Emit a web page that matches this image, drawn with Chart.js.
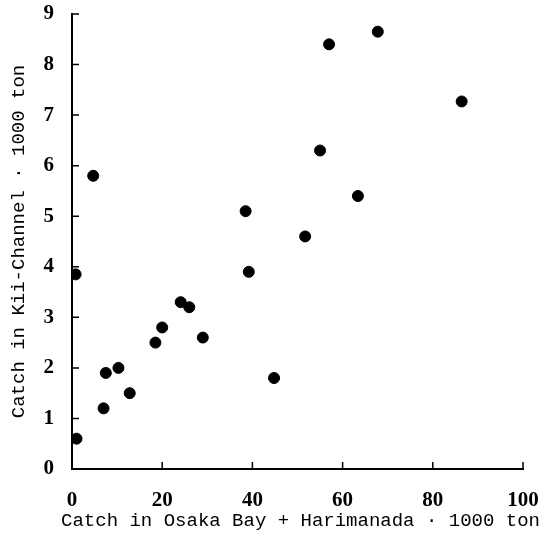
<!DOCTYPE html>
<html>
<head>
<meta charset="utf-8">
<script src="https://cdn.jsdelivr.net/npm/chart.js@4"></script>
<style>
  html, body { margin: 0; padding: 0; background: #fff; }
</style>
</head>
<body>
<canvas id="myCanvas" width="553" height="536"></canvas>
<script>
// catch in Osaka Bay + Harimanada (1000 ton)
var osakaCatch = [1.0, 0.8, 4.7, 7.0, 7.5, 10.3, 12.8, 18.5, 20.0, 24.1, 26.0, 29.0,
  38.5, 39.2, 44.8, 51.7, 55.0, 57.0, 63.4, 67.8, 86.4];
// catch in Kii-Channel (1000 ton)
var kiiCatch = [0.6, 3.85, 5.8, 1.2, 1.9, 2.0, 1.5, 2.5, 2.8, 3.3, 3.2, 2.6,
  5.1, 3.9, 1.8, 4.6, 6.3, 8.4, 5.4, 8.65, 7.27];

var xTitle = 'Catch in Osaka Bay + Harimanada \u00b7 1000 ton';
var yTitle = 'Catch in Kii-Channel \u00b7 1000 ton';

var points = osakaCatch.map(function(x, i) {
  return { x: x, y: kiiCatch[i] };
});

var tickFont = { family: 'Liberation Serif', size: 21, weight: 'bold' };
var titleFont = { family: 'Liberation Mono', size: 19 };

// ticks point into the plot, and the x title is drawn wider than the axis
var axisExtras = {
  id: 'axisExtras',
  afterDraw: function(chart) {
    var c = chart.ctx, xs = chart.scales.x, ys = chart.scales.y, a = chart.chartArea;
    c.save();
    c.strokeStyle = '#000';
    c.lineWidth = 1.5;
    c.beginPath();
    xs.ticks.forEach(function(t) {
      var px = xs.getPixelForValue(t.value);
      c.moveTo(px, a.bottom);
      c.lineTo(px, a.bottom - 7);
    });
    ys.ticks.forEach(function(t) {
      var py = ys.getPixelForValue(t.value);
      c.moveTo(a.left, py);
      c.lineTo(a.left + 7, py);
    });
    c.stroke();
    c.fillStyle = '#000';
    c.font = titleFont.size + 'px "' + titleFont.family + '"';
    c.textAlign = 'center';
    c.textBaseline = 'middle';
    c.fillText(xTitle, (a.left + a.right) / 2 + 3, xs.bottom - 15);
    c.restore();
  }
};

function noPad(scale) {
  scale.paddingTop = 0;
  scale.paddingBottom = 0;
  scale.paddingLeft = 0;
  scale.paddingRight = 0;
}

var ctx = document.getElementById('myCanvas');

var chart = new Chart(ctx, {
  type: 'scatter',
  data: {
    datasets: [{
      label: 'catch',
      data: points,
      backgroundColor: '#000',
      borderColor: '#000',
      pointRadius: 5.5,
      pointHoverRadius: 5.5
    }]
  },
  options: {
    responsive: false,
    animation: false,
    layout: { padding: { top: 14, right: 30, bottom: 0, left: 0 } },
    plugins: {
      legend: { display: false },
      tooltip: { enabled: false }
    },
    scales: {
      x: {
        type: 'linear',
        min: 0,
        max: 100,
        afterFit: function(scale) { scale.height = 67; noPad(scale); },
        ticks: {
          stepSize: 20,
          color: '#000',
          font: tickFont,
          padding: 19,
          maxRotation: 0,
          autoSkip: false
        },
        grid: { drawOnChartArea: false, drawTicks: false, tickLength: 0 },
        border: { display: true, color: '#000', width: 2 }
      },
      y: {
        type: 'linear',
        min: 0,
        max: 9,
        afterFit: function(scale) { scale.width = 72; noPad(scale); },
        ticks: {
          stepSize: 1,
          color: '#000',
          font: tickFont,
          padding: 18
        },
        grid: { drawOnChartArea: false, drawTicks: false, tickLength: 0 },
        border: { display: true, color: '#000', width: 2 },
        title: { display: true, text: yTitle, color: '#000', font: titleFont, padding: { top: 8, bottom: 0 } }
      }
    }
  },
  plugins: [axisExtras]
});
</script>
</body>
</html>
